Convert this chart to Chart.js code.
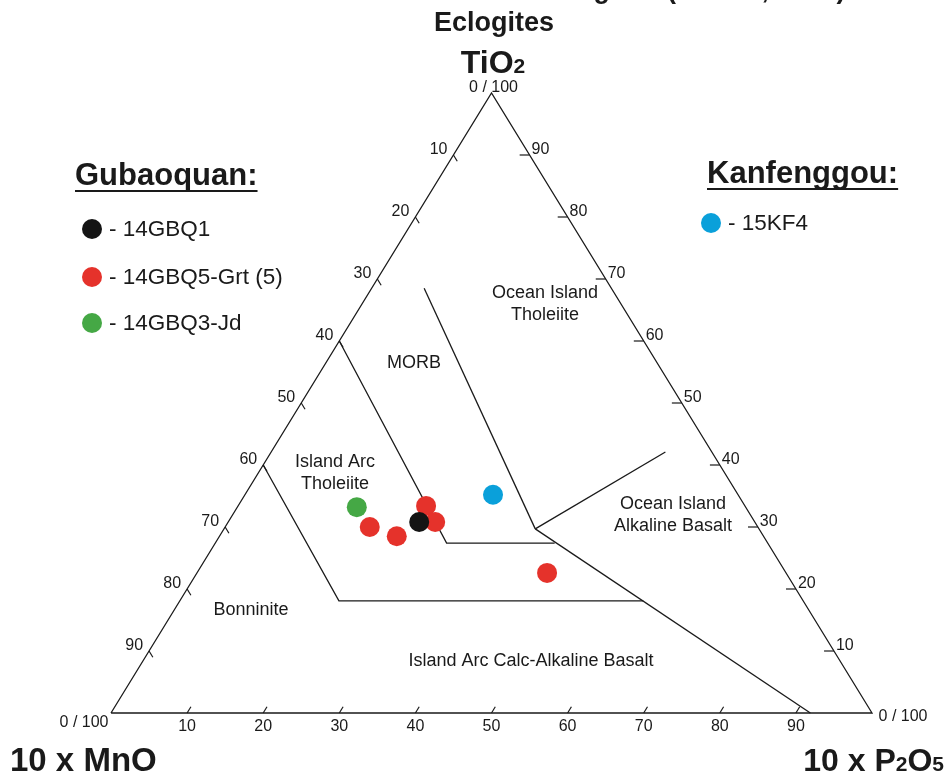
<!DOCTYPE html>
<html>
<head>
<meta charset="utf-8">
<title>MnO-TiO2-P2O5 Eclogites</title>
<script src="https://cdn.jsdelivr.net/npm/chart.js@4.4.1/dist/chart.umd.min.js"></script>
<style>
	html, body { margin: 0; padding: 0; background: #fff; }
	canvas { display: block; }
</style>
</head>
<body>
<canvas id="myChart" width="950" height="780"></canvas>
<script>
// ternary values as [P2O5, TiO2] (10 x MnO is the rest up to 100)
const tickValues = [10, 20, 30, 40, 50, 60, 70, 80, 90];

const outline = [[0, 0], [100, 0], [0, 100], [0, 0]];

// field boundaries
const iatLine = [[0, 60], [30.4, 27.4], [44.6, 27.4]];
const bonLine = [[0, 40], [20.9, 18.1], [60.9, 18.1]];
const morbLine = [[6.9, 68.5], [40.9, 29.7]];
const calcLine = [[40.9, 29.7], [91.9, 0]];
const oiaLine = [[40.9, 29.7], [51.8, 42.1]];

// samples
const gbq1 = [[25.1, 30.8]];
const gbq5 = [[24.7, 33.4], [27.2, 30.8], [19.0, 30.0], [23.3, 28.5], [46.0, 22.6]];
const gbq3 = [[15.7, 33.2]];
const kf4 = [[32.6, 35.2]];

const toXY = ([p, t]) => ({ x: p + t / 2, y: t });

const lineSet = (pts) => ({
	type: 'line',
	data: pts.map(toXY),
	borderColor: '#1a1a1a',
	borderWidth: 1.3,
	pointRadius: 0,
	fill: false,
	tension: 0,
	order: 5,
});

const pointSet = (label, pts, color, order) => ({
	label: label,
	data: pts.map(toXY),
	backgroundColor: color,
	borderWidth: 0,
	pointRadius: 10,
	pointHoverRadius: 10,
	order: order,
});

const FONT = 'Arial, "Liberation Sans", sans-serif';

function txt(ctx, s, x, y, font, align, base) {
	ctx.font = font;
	ctx.textAlign = align || 'center';
	ctx.textBaseline = base || 'middle';
	ctx.fillText(s, x, y);
}

// draws runs of [text, size, dy] in sequence
function runs(ctx, parts, x, y, align) {
	let total = 0;
	parts.forEach(p => { ctx.font = 'bold ' + p[1] + 'px ' + FONT; total += ctx.measureText(p[0]).width; });
	let cx = align === 'center' ? x - total / 2 : align === 'right' ? x - total : x;
	ctx.textAlign = 'left';
	ctx.textBaseline = 'alphabetic';
	parts.forEach(p => {
		ctx.font = 'bold ' + p[1] + 'px ' + FONT;
		ctx.fillText(p[0], cx, y + p[2]);
		cx += ctx.measureText(p[0]).width;
	});
}

const ternaryText = {
	id: 'ternaryText',
	afterDraw(chart) {
		const ctx = chart.ctx;
		const xs = chart.scales.x, ys = chart.scales.y;
		const px = (p, t) => [xs.getPixelForValue(p + t / 2), ys.getPixelForValue(t)];
		ctx.save();
		ctx.fillStyle = '#1a1a1a';
		ctx.strokeStyle = '#1a1a1a';
		ctx.lineWidth = 1.2;

		// ticks and tick labels
		tickValues.forEach(v => {
			// bottom axis (P2O5)
			let a = px(v, 0), b = px(v, 1);
			ctx.beginPath(); ctx.moveTo(a[0], a[1]); ctx.lineTo(b[0], b[1]); ctx.stroke();
			txt(ctx, String(v), a[0], a[1] + 14, '16px ' + FONT);
			// left edge (MnO)
			a = px(0, 100 - v); b = px(1, 99 - v);
			ctx.beginPath(); ctx.moveTo(a[0], a[1]); ctx.lineTo(b[0], b[1]); ctx.stroke();
			txt(ctx, String(v), a[0] - 6, a[1] - 1, '16px ' + FONT, 'right', 'alphabetic');
			// right edge (TiO2)
			a = px(100 - v, v); b = px(98.7 - v, v);
			ctx.beginPath(); ctx.moveTo(a[0], a[1]); ctx.lineTo(b[0], b[1]); ctx.stroke();
			txt(ctx, String(v), a[0] + 2, a[1] - 1, '16px ' + FONT, 'left', 'alphabetic');
		});
		let c = px(0, 100);
		txt(ctx, '0 / 100', c[0] + 2, c[1] - 5, '16px ' + FONT);
		c = px(0, 0);
		txt(ctx, '0 / 100', c[0] - 27, c[1] + 10, '16px ' + FONT);
		c = px(100, 0);
		txt(ctx, '0 / 100', c[0] + 31, c[1] + 4, '16px ' + FONT);

		// title lines
		txt(ctx, 'MnO-TiO2-P2O5 Discrimination Diagram (Mullen, 1983)', 494, -2, 'bold 27px ' + FONT, 'center', 'alphabetic');
		txt(ctx, 'Eclogites', 494, 31, 'bold 27px ' + FONT, 'center', 'alphabetic');
		runs(ctx, [['TiO', 32, 0], ['2', 21, 0]], 493, 73, 'center');
		runs(ctx, [['10 x MnO', 33, 0]], 10, 771, 'left');
		runs(ctx, [['10 x P', 32, 0], ['2', 21, 0], ['O', 32, 0], ['5', 21, 0]], 944, 771, 'right');

		// field names
		const f = '18px ' + FONT;
		txt(ctx, 'Ocean Island', 545, 293, f);
		txt(ctx, 'Tholeiite', 545, 315, f);
		txt(ctx, 'MORB', 414, 363, f);
		txt(ctx, 'Island Arc', 335, 462, f);
		txt(ctx, 'Tholeiite', 335, 484, f);
		txt(ctx, 'Bonninite', 251, 610, f);
		txt(ctx, 'Island Arc Calc-Alkaline Basalt', 531, 661, f);
		txt(ctx, 'Ocean Island', 673, 504, f);
		txt(ctx, 'Alkaline Basalt', 673, 526, f);

		// legend blocks
		const heads = [['Gubaoquan:', 75, 185], ['Kanfenggou:', 707, 183]];
		heads.forEach(h => {
			ctx.font = 'bold 31px ' + FONT;
			ctx.textAlign = 'left';
			ctx.textBaseline = 'alphabetic';
			ctx.fillText(h[0], h[1], h[2]);
			const w = ctx.measureText(h[0]).width;
			ctx.fillRect(h[1], h[2] + 5, w, 2);
		});
		const items = [
			[chart.data.datasets[0], 92, 229],
			[chart.data.datasets[1], 92, 277],
			[chart.data.datasets[2], 92, 323],
			[chart.data.datasets[3], 711, 223],
		];
		items.forEach(it => {
			ctx.fillStyle = it[0].backgroundColor;
			ctx.beginPath(); ctx.arc(it[1], it[2], 10, 0, Math.PI * 2); ctx.fill();
			ctx.fillStyle = '#1a1a1a';
			txt(ctx, '- ' + it[0].label, it[1] + 17, it[2] + 1, '22.5px ' + FONT, 'left');
		});
		ctx.restore();
	},
};

new Chart(document.getElementById('myChart').getContext('2d'), {
	type: 'scatter',
	data: {
		datasets: [
			pointSet('14GBQ1', gbq1, '#141414', 0),
			pointSet('14GBQ5-Grt (5)', gbq5, '#e5322b', 1),
			pointSet('14GBQ3-Jd', gbq3, '#45a845', 1),
			pointSet('15KF4', kf4, '#0aa0da', 1),
			lineSet(outline),
			lineSet(iatLine),
			lineSet(bonLine),
			lineSet(morbLine),
			lineSet(calcLine),
			lineSet(oiaLine),
		],
	},
	options: {
		responsive: false,
		animation: false,
		devicePixelRatio: 1,
		clip: false,
		layout: { padding: { left: 111, right: 78, top: 93, bottom: 67 } },
		scales: {
			x: { display: false, min: 0, max: 100 },
			y: { display: false, min: 0, max: 100 },
		},
		plugins: {
			legend: { display: false },
			tooltip: { enabled: false },
		},
	},
	plugins: [ternaryText],
});
</script>
</body>
</html>
